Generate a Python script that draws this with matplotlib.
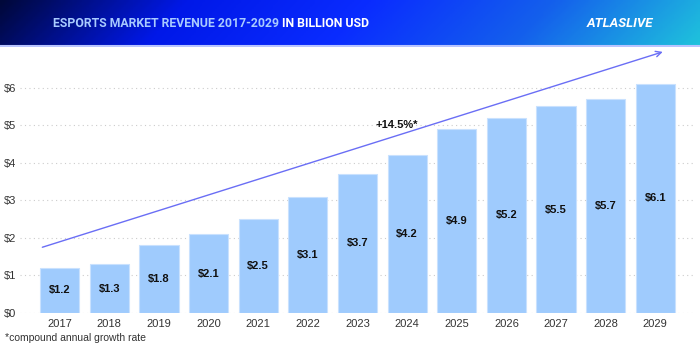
import numpy as np
import matplotlib
matplotlib.use('Agg')
import matplotlib.pyplot as plt
from matplotlib.colors import LinearSegmentedColormap

plt.rcParams['font.family'] = ['Liberation Sans', 'DejaVu Sans']

# данные
years = ['2017', '2018', '2019', '2020', '2021', '2022', '2023',
         '2024', '2025', '2026', '2027', '2028', '2029']
revenue = [1.2, 1.3, 1.8, 2.1, 2.5, 3.1, 3.7, 4.2, 4.9, 5.2, 5.5, 5.7, 6.1]
y_ticks = [0, 1, 2, 3, 4, 5, 6]
cagr_label = '+14.5%*'
trend_start = (-0.35, 1.75)
trend_end = (12.15, 6.95)

fig = plt.figure(figsize=(7, 3.5), dpi=100)

# шапка с градиентом
head = fig.add_axes([0, 1 - 47 / 350, 1, 47 / 350])
cmap = LinearSegmentedColormap.from_list('hdr', ['#00083a', '#0018e8', '#0a2cff', '#1460ec', '#1fc2dc'])
grad = np.linspace(0, 1, 300).reshape(1, -1)
grad = grad + np.linspace(0, 0.06, 20).reshape(-1, 1)
head.imshow(grad, aspect='auto', cmap=cmap, extent=[0, 1, 0, 1], vmin=0, vmax=1.06)
head.axhline(0.02, color='#b8c4ff', linewidth=1.5)
head.set_xlim(0, 1)
head.set_ylim(0, 1)
head.axis('off')
t1 = head.text(53 / 700, 0.5, 'ESPORTS MARKET REVENUE 2017-2029 ', color='#a9cbff',
               fontsize=8.8, fontweight='bold', family='Roboto', va='center')
fig.canvas.draw()
bb = t1.get_window_extent()
x2 = head.transAxes.inverted().transform((bb.x1, 0))[0]
head.text(x2, 0.5, 'IN BILLION USD', color='white', fontsize=8.8, fontweight='bold',
          family='Roboto', va='center')
head.text(620 / 700, 0.5, 'ATLASLIVE', color='white', fontsize=9.5, fontweight='bold',
          family='Roboto', va='center', ha='center', style='italic')

# основной график
ax = fig.add_axes([20 / 700, 37 / 350, 675 / 700, (313 - 50) / 350])
x = np.arange(len(years))
ax.bar(x, revenue, width=0.79, color='#9fcbfd', edgecolor='#c9e1fe', linewidth=0.8, zorder=2)
for xi, v in zip(x, revenue):
    ax.text(xi, v / 2, f'${v}', ha='center', va='center', fontsize=8,
            fontweight='bold', color='#111111', zorder=3)

ax.annotate('', xy=trend_end, xytext=trend_start,
            arrowprops=dict(arrowstyle='->', color='#6a6ef5', lw=1.0,
                            shrinkA=0, shrinkB=0), zorder=4)
ax.text(6.8, 5.0, cagr_label, ha='center', va='center', fontsize=8,
        fontweight='bold', color='#111111')

ax.set_xlim(-0.8, 12.8)
ax.set_ylim(0, 7.0)
ax.set_yticks(y_ticks)
ax.set_yticklabels([f'${t}' for t in y_ticks], fontsize=8, color='#333333')
ax.set_xticks(x)
ax.set_xticklabels(years, fontsize=8, color='#333333')
ax.tick_params(length=0, pad=4)
ax.tick_params(axis='y', pad=-2)
for lbl in ax.get_yticklabels():
    lbl.set_horizontalalignment('left')
    lbl.set_x(-0.028)
ax.yaxis.grid(True, color='#cccccc', linestyle=(0, (1, 3)), linewidth=0.8, zorder=0)
for s in ax.spines.values():
    s.set_visible(False)

fig.text(5 / 700, 1 - 338 / 350, '*compound annual growth rate', fontsize=7.5,
         color='#333333', va='center')

fig.savefig('out.png', dpi=100)
